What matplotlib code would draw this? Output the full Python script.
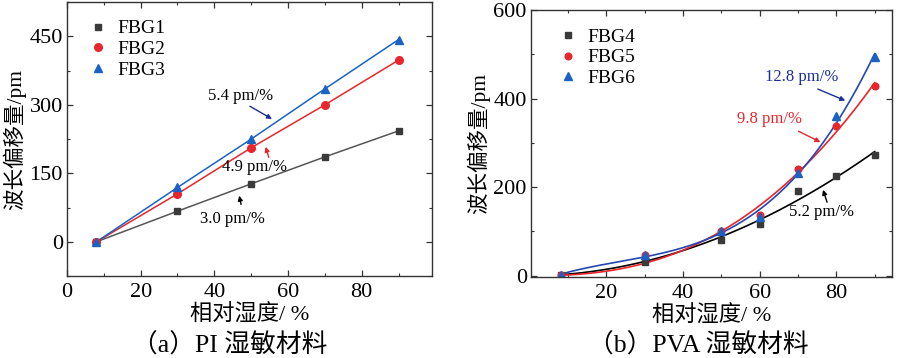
import numpy as np
import matplotlib
matplotlib.use("Agg")
import matplotlib.pyplot as plt
from matplotlib.ticker import MultipleLocator

plt.rcParams['font.family'] = ['Liberation Serif', 'Noto Sans CJK SC', 'DejaVu Sans']

# ---- Panel (a) data: PI ----
rh_a = [8, 30, 50, 70, 90]
fbg1 = [0, 67, 127, 186, 243]
fbg2 = [0, 105, 206, 300, 398]
fbg3 = [0, 119, 225, 335, 443]

# ---- Panel (b) data: PVA ----
rh_b = [8, 30, 50, 60, 70, 80, 90]
fbg4 = [1, 32, 81, 116, 191, 225, 273]
fbg5 = [1, 46, 100, 137, 240, 338, 429]
fbg6 = [2, 47, 101, 133, 232, 360, 494]

labels_a = ['FBG1', 'FBG2', 'FBG3']
labels_b = ['FBG4', 'FBG5', 'FBG6']
sens_a = ['3.0 pm/%', '4.9 pm/%', '5.4 pm/%']
sens_b = ['5.2 pm/%', '9.8 pm/%', '12.8 pm/%']

c_blk = '#3a3a3a'
c_red = '#e8262d'
c_blu = '#1a62c4'
c_blu_line = '#2447b0'
c_blu_txt = '#1c2d9c'


def power_fit(x, y):
    """Least-squares fit y = a * x**b (grid over b, a solved exactly)."""
    x = np.asarray(x, float)
    y = np.asarray(y, float)
    best = None
    for b in np.linspace(1.0, 4.0, 601):
        xb = x ** b
        a = np.sum(y * xb) / np.sum(xb * xb)
        err = np.sum((a * xb - y) ** 2)
        if best is None or err < best[0]:
            best = (err, a, b)
    return best[1], best[2]


fig = plt.figure(figsize=(9, 3.58), dpi=100)
ax1 = fig.add_axes([0.0744, 0.229, 0.4053, 0.765])
ax2 = fig.add_axes([0.590, 0.226, 0.401, 0.746])


def style(ax):
    for s in ax.spines.values():
        s.set_linewidth(1.0)
        s.set_color('#333333')
    ax.tick_params(which='both', direction='in', top=True, right=True,
                   labelsize=16, colors='#333333', labelcolor='black')
    ax.tick_params(axis='x', pad=5)
    ax.tick_params(axis='y', pad=3)
    ax.tick_params(which='major', length=4, width=0.9)
    ax.tick_params(which='minor', length=2.2, width=0.8)


# Panel a
ax1.plot(rh_a, fbg1, '-', color='#555555', lw=1.1)
ax1.plot(rh_a, fbg2, '-', color=c_red, lw=1.1)
ax1.plot(rh_a, fbg3, '-', color=c_blu, lw=1.1)
ax1.plot(rh_a, fbg1, ls='none', marker='s', ms=4.5, mfc=c_blk, mec=c_blk,
         label=labels_a[0])
ax1.plot(rh_a, fbg2, ls='none', marker='o', ms=5.5, mfc=c_red, mec=c_red,
         label=labels_a[1])
ax1.plot(rh_a, fbg3, ls='none', marker='^', ms=6, mfc=c_blu, mec=c_blu,
         label=labels_a[2])
ax1.set_xlim(0, 99)
ax1.set_ylim(-75, 525)
ax1.xaxis.set_major_locator(MultipleLocator(20))
ax1.xaxis.set_minor_locator(MultipleLocator(10))
ax1.yaxis.set_major_locator(MultipleLocator(150))
ax1.yaxis.set_minor_locator(MultipleLocator(75))
style(ax1)
ax1.set_xlabel('相对湿度/ %', fontsize=16, labelpad=2)
ax1.set_ylabel('波长偏移量/pm', fontsize=15.5, labelpad=2)
ax1.legend(loc='upper left', bbox_to_anchor=(0.02, 0.985), frameon=False,
           fontsize=14, handlelength=1.0, handletextpad=0.5,
           labelspacing=0.15, borderaxespad=0.3)

ap = dict(arrowstyle='-|>', lw=1.0, mutation_scale=7)
ax1.annotate('', xy=(56.3, 266), xytext=(49, 300),
             arrowprops=dict(ap, color=c_blu_txt))
ax1.text(47, 319, sens_a[2], fontsize=12, ha='center', va='center')
ax1.annotate('', xy=(53.7, 214), xytext=(55, 179),
             arrowprops=dict(ap, color=c_red))
ax1.text(51, 164, sens_a[1], fontsize=12, ha='center', va='center')
ax1.annotate('', xy=(46.6, 107), xytext=(47.4, 76),
             arrowprops=dict(ap, color='black'))
ax1.text(45, 51, sens_a[0], fontsize=12, ha='center', va='center')

# Panel b
xs = np.linspace(min(rh_b), max(rh_b), 200)
a4, b4 = power_fit(rh_b, fbg4)
a5, b5 = power_fit(rh_b, fbg5)
c6 = np.polyfit(rh_b, fbg6, 3)
ax2.plot(xs, a4 * xs ** b4, '-', color='black', lw=1.2)
ax2.plot(xs, a5 * xs ** b5, '-', color=c_red, lw=1.2)
ax2.plot(xs, np.polyval(c6, xs), '-', color=c_blu_line, lw=1.2)
ax2.plot(rh_b, fbg4, ls='none', marker='s', ms=4.2, mfc=c_blk, mec=c_blk,
         label=labels_b[0])
ax2.plot(rh_b, fbg5, ls='none', marker='o', ms=4.8, mfc=c_red, mec=c_red,
         label=labels_b[1])
ax2.plot(rh_b, fbg6, ls='none', marker='^', ms=5.2, mfc=c_blu, mec=c_blu,
         label=labels_b[2])
ax2.set_xlim(0.3, 94.5)
ax2.set_ylim(-3, 600)
ax2.set_xticks([20, 40, 60, 80])
ax2.xaxis.set_minor_locator(MultipleLocator(10))
ax2.yaxis.set_major_locator(MultipleLocator(200))
ax2.yaxis.set_minor_locator(MultipleLocator(100))
style(ax2)
ax2.set_xlabel('相对湿度/ %', fontsize=16, labelpad=2)
ax2.set_ylabel('波长偏移量/pm', fontsize=15.5, labelpad=2)
ax2.legend(loc='upper left', bbox_to_anchor=(0.033, 0.99), frameon=False,
           fontsize=14, handlelength=1.0, handletextpad=0.5,
           labelspacing=0.15, borderaxespad=0.4)

ax2.annotate('', xy=(83, 393), xytext=(74.5, 424),
             arrowprops=dict(ap, color=c_blu_txt))
ax2.text(71, 449, sens_b[2], fontsize=12, ha='center', va='center',
         color=c_blu_txt)
ax2.annotate('', xy=(76.5, 299), xytext=(69.5, 329),
             arrowprops=dict(ap, color=c_red))
ax2.text(62.5, 353, sens_b[1], fontsize=12, ha='center', va='center',
         color=c_red)
ax2.annotate('', xy=(76.3, 200), xytext=(77.8, 160),
             arrowprops=dict(ap, color='black'))
ax2.text(76, 144, sens_b[0], fontsize=12, ha='center', va='center')

fig.text(230 / 900, 1 - 345 / 358, '（a）PI 湿敏材料', fontsize=18.5,
         ha='center', va='center')
fig.text(698 / 900, 1 - 345 / 358, '（b）PVA 湿敏材料', fontsize=18.5,
         ha='center', va='center')

fig.savefig('out.png', dpi=100)
